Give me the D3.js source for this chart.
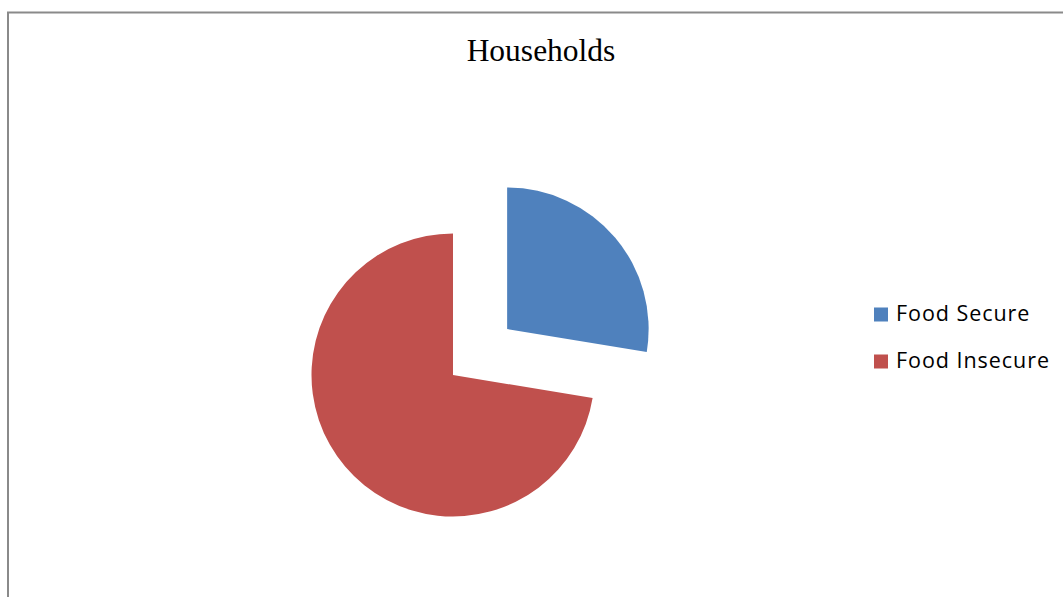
<!DOCTYPE html>
<html lang="en">
  <head>
    <meta charset="utf-8">
    <title>Households</title>
    <script src="https://cdn.jsdelivr.net/npm/d3@7"></script>
    <style>
      body { margin: 0; background: #fff; }
    </style>
  </head>
  <body>
    <svg width="1063" height="597" id="mainsvg"></svg>
    <script>
      // data
      const categories = ['Food Secure', 'Food Insecure'];
      const values = [27.6, 72.4];
      const colors = ['#4F81BD', '#C0504D'];

      const svg = d3.select('#mainsvg');

      // chart frame (only top and left edges visible)
      svg.append('path')
        .attr('d', 'M8,597 V12.5 H1063')
        .attr('fill', 'none')
        .attr('stroke', '#8a8a8a')
        .attr('stroke-width', 2);

      // title
      svg.append('text')
        .text('Households')
        .attr('x', 541)
        .attr('y', 61)
        .attr('text-anchor', 'middle')
        .attr('font-family', '"Liberation Serif", "Times New Roman", serif')
        .attr('font-size', 31.5)
        .attr('fill', '#000');

      // pie
      const cx = 453, cy = 375, radius = 141.5, explode = 71;
      const pie = d3.pie().sort(null)(values);
      const arc = d3.arc().innerRadius(0).outerRadius(radius);
      const g = svg.append('g').attr('transform', `translate(${cx}, ${cy})`);

      g.selectAll('path.slice')
        .data(pie)
        .join('path')
        .attr('class', 'slice')
        .attr('d', arc)
        .attr('fill', (d, i) => colors[i])
        .attr('transform', (d, i) => {
          if (i !== 0) return null;
          const mid = (d.startAngle + d.endAngle) / 2;
          return `translate(${explode * Math.sin(mid)}, ${-explode * Math.cos(mid)})`;
        });

      // legend
      const legend = svg.append('g').attr('transform', 'translate(874, 307.5)');
      const yStep = d3.scaleBand().domain(categories).range([0, 94]);
      categories.forEach((c, i) => {
        const row = legend.append('g').attr('transform', `translate(0, ${yStep(c)})`);
        row.append('rect')
          .attr('width', 14)
          .attr('height', 14)
          .attr('fill', colors[i]);
        row.append('text')
          .text(c)
          .attr('x', 22)
          .attr('y', 13.5)
          .attr('font-family', '"Open Sans", sans-serif')
          .attr('font-size', 21.5)
          .attr('letter-spacing', 0.95)
          .attr('fill', '#000');
      });
    </script>
  </body>
</html>
